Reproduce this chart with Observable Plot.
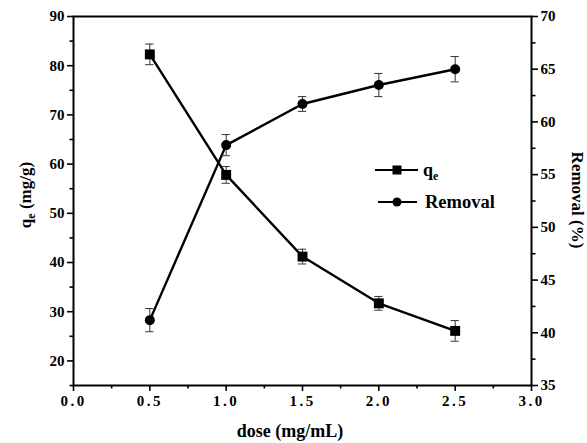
<!DOCTYPE html>
<html>
<head>
<meta charset="utf-8">
<script src="https://cdn.jsdelivr.net/npm/d3@7"></script>
<script src="https://cdn.jsdelivr.net/npm/@observablehq/plot@0.6"></script>
<style>
  html, body { margin: 0; padding: 0; background: #fff; font-family: "Liberation Serif"; }
  #wrap { position: relative; width: 587px; height: 443px; }
  #wrap svg, #wrap svg text, #wrap svg tspan { font-family: "Liberation Serif" !important; font-weight: bold; }
  #wrap svg g[aria-label="x-axis tick label"] text { letter-spacing: 2.5px; }
</style>
</head>
<body>
<div id="wrap"></div>
<script>
const dose = [0.5, 1.0, 1.5, 2.0, 2.5];
const qe = [82.3, 57.8, 41.2, 31.7, 26.1];
const qeErr = [2.1, 1.7, 1.5, 1.4, 2.1];
const removal = [41.2, 57.8, 61.7, 63.5, 65.0];
const removalErr = [1.1, 1.0, 0.7, 1.1, 1.2];

const xMajor = [0, 0.5, 1.0, 1.5, 2.0, 2.5, 3.0];
const xMinor = [0.25, 0.75, 1.25, 1.75, 2.25, 2.75];
const leftMajor = [20, 30, 40, 50, 60, 70, 80, 90];
const leftMinor = [15, 25, 35, 45, 55, 65, 75, 85];
const rightMajor = [35, 40, 45, 50, 55, 60, 65, 70];
const rightMinor = [37.5, 42.5, 47.5, 52.5, 57.5, 62.5, 67.5];

const L0 = 15, L1 = 90, R0 = 35, R1 = 70;
const toLeft = r => L0 + (r - R0) * (L1 - L0) / (R1 - R0);
const fromLeft = v => R0 + (v - L0) * (R1 - R0) / (L1 - L0);

const qeData = dose.map((d, i) => ({x: d, y: qe[i], lo: qe[i] - qeErr[i], hi: qe[i] + qeErr[i]}));
const remData = dose.map((d, i) => ({x: d, y: toLeft(removal[i]), lo: toLeft(removal[i] - removalErr[i]), hi: toLeft(removal[i] + removalErr[i])}));
const allData = qeData.concat(remData);
const capW = 0.027;

const chart = Plot.plot({
  width: 587,
  height: 443,
  marginLeft: 73,
  marginRight: 56,
  marginTop: 16,
  marginBottom: 58,
  style: {fontFamily: "Liberation Serif", fontSize: "15px", fontWeight: "bold", color: "#000", background: "#fff", overflow: "visible"},
  x: {domain: [0, 3]},
  y: {domain: [L0, L1]},
  marks: [
    Plot.axisX({ticks: xMajor, tickFormat: d3.format(".1f"), tickSize: 6, strokeWidth: 1.6, label: null, tickPadding: 4}),
    Plot.axisX({ticks: xMinor, text: null, tickSize: 3.5, strokeWidth: 1.6, label: null}),
    Plot.axisY({ticks: leftMajor, tickSize: 6, strokeWidth: 1.6, label: null, tickPadding: 3}),
    Plot.axisY({ticks: leftMinor, text: null, tickSize: 3.5, strokeWidth: 1.6, label: null}),
    Plot.axisY({anchor: "right", ticks: rightMajor.map(toLeft), tickFormat: v => String(Math.round(fromLeft(v))), tickSize: 6, strokeWidth: 1.6, label: null, tickPadding: 3}),
    Plot.axisY({anchor: "right", ticks: rightMinor.map(toLeft), text: null, tickSize: 3.5, strokeWidth: 1.6, label: null}),
    Plot.frame({stroke: "#000", strokeWidth: 2}),
    Plot.line(qeData, {x: "x", y: "y", stroke: "#000", strokeWidth: 2.4}),
    Plot.line(remData, {x: "x", y: "y", stroke: "#000", strokeWidth: 2.4}),
    Plot.ruleX(allData, {x: "x", y1: "lo", y2: "hi", stroke: "#333", strokeWidth: 1}),
    Plot.ruleY(allData, {y: "lo", x1: d => d.x - capW, x2: d => d.x + capW, stroke: "#333", strokeWidth: 1}),
    Plot.ruleY(allData, {y: "hi", x1: d => d.x - capW, x2: d => d.x + capW, stroke: "#333", strokeWidth: 1}),
    Plot.dot(qeData, {x: "x", y: "y", symbol: "square", r: 5.6, fill: "#000", stroke: "none"}),
    Plot.dot(remData, {x: "x", y: "y", symbol: "circle", r: 5, fill: "#000", stroke: "none"})
  ]
});

const svg = d3.select(chart);
const titleStyle = sel => sel.attr("font-weight", "bold").attr("font-size", 17).attr("fill", "#000");

// left axis title with subscript
const lt = svg.append("text").attr("transform", "translate(31,195) rotate(-90)").attr("text-anchor", "middle").call(titleStyle);
lt.append("tspan").text("q");
lt.append("tspan").attr("font-size", 12).attr("dy", 4).text("e");
lt.append("tspan").attr("dy", -4).text(" (mg/g)");

// right axis title
svg.append("text").attr("transform", "translate(572,200) rotate(90)").attr("text-anchor", "middle").call(titleStyle).text("Removal (%)");

// bottom axis title
svg.append("text").attr("x", 290).attr("y", 437).attr("text-anchor", "middle").call(titleStyle).attr("font-size", 18).text("dose (mg/mL)");

// legend
const lg = svg.append("g");
lg.append("line").attr("x1", 375).attr("x2", 418).attr("y1", 170).attr("y2", 170).attr("stroke", "#000").attr("stroke-width", 2);
lg.append("rect").attr("x", 392.5).attr("y", 165.5).attr("width", 9).attr("height", 9).attr("fill", "#000");
const lq = lg.append("text").attr("x", 423).attr("y", 176).attr("text-anchor", "start").call(titleStyle).attr("font-size", 18);
lq.append("tspan").text("q");
lq.append("tspan").attr("font-size", 12).attr("dy", 4).text("e");
lg.append("line").attr("x1", 378).attr("x2", 417).attr("y1", 202).attr("y2", 202).attr("stroke", "#000").attr("stroke-width", 2);
lg.append("circle").attr("cx", 397).attr("cy", 202).attr("r", 4.5).attr("fill", "#000");
lg.append("text").attr("x", 425).attr("y", 208).attr("text-anchor", "start").call(titleStyle).attr("font-size", 18.5).text("Removal");

svg.selectAll("text, tspan").attr("font-family", "Liberation Serif");
svg.attr("font-family", "Liberation Serif");

document.getElementById("wrap").appendChild(chart);
</script>
</body>
</html>
